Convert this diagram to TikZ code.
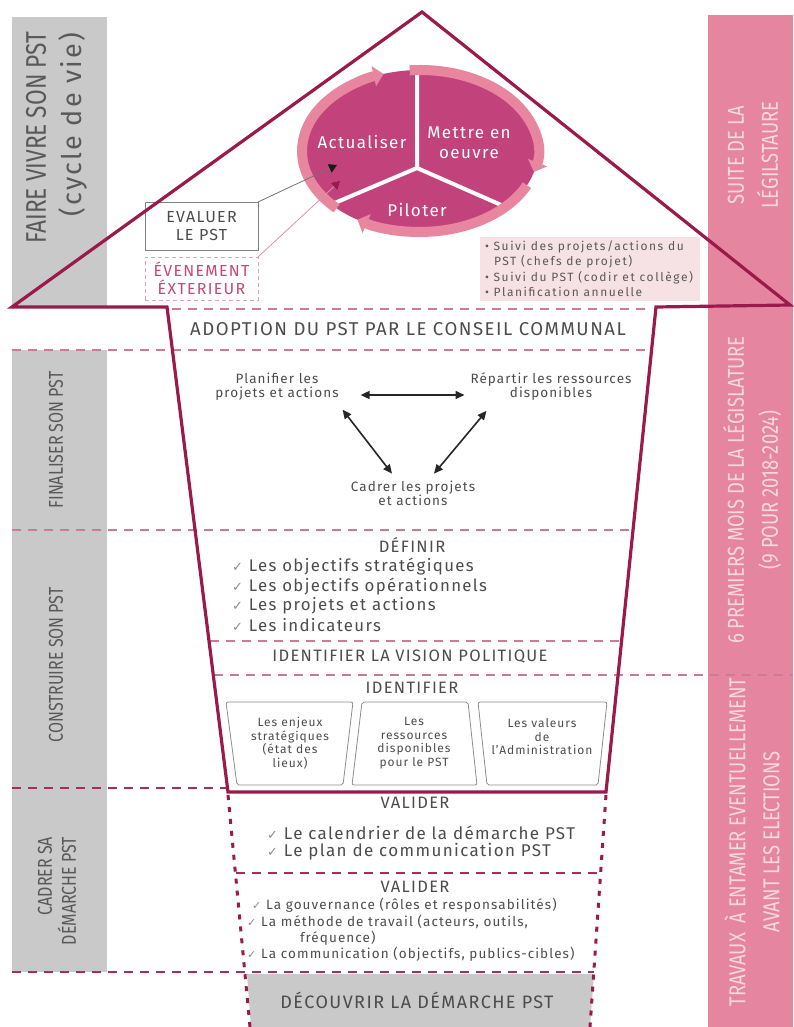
\documentclass[tikz,border=0pt]{standalone}
\usepackage{fontspec}
\setmainfont{Fira Sans}[LetterSpace=8]
\newfontfamily\cond{Fira Sans}[FakeStretch=0.8]
\newfontfamily\symf{DejaVu Sans}
\usetikzlibrary{arrows.meta}
\definecolor{crim}{HTML}{9A1A4C}
\definecolor{dashl}{HTML}{CC7A96}
\definecolor{dashd}{HTML}{A82D5E}
\definecolor{stripc}{HTML}{C9C9C9}
\definecolor{pinkstrip}{HTML}{E6859F}
\definecolor{pinktxt}{HTML}{F9D8E1}
\definecolor{txt}{HTML}{4C4C4C}
\definecolor{striptxt}{HTML}{595959}
\definecolor{ringc}{HTML}{E8869F}
\definecolor{diskc}{HTML}{C2437B}
\definecolor{bulletbg}{HTML}{F6E1E4}
\definecolor{evc}{HTML}{C04A78}
\definecolor{chkc}{HTML}{8C8C8C}
\newcommand{\mychk}{{\symf\color{chkc}\fontsize{13}{13}\selectfont ✓}\hspace{6pt}}
\newcommand{\mychks}{{\symf\color{chkc}\fontsize{11}{11}\selectfont ✓}\hspace{5pt}}
\begin{document}
\begin{tikzpicture}[x=1pt,y=-1pt,
  every node/.style={inner sep=0pt, outer sep=0pt, text=txt},
  sepl/.style={draw=dashl, line width=1.6pt, dash pattern=on 9pt off 7pt},
  sepd/.style={draw=dashd, line width=2pt, dash pattern=on 9pt off 7pt},
  house/.style={draw=crim, line width=3.2pt, line join=miter},
  dotl/.style={draw=crim, line width=3pt, dash pattern=on 5pt off 7pt},
  stxt/.style={rotate=90, font=\cond\fontsize{20}{22}\selectfont, text=striptxt},
  ptxt/.style={rotate=90, font=\cond\fontsize{23}{34}\selectfont, text=pinktxt, align=center},
  dbl/.style={{Triangle[width=8pt,length=9pt]}-{Triangle[width=8pt,length=9pt]}, line width=1.6pt, draw=black!85},
  ringarc/.style={draw=ringc, line width=10pt, -{Triangle[width=20pt,length=10pt]}},
  trap/.style={draw=black!45, line width=0.8pt, rounded corners=2pt},
  hd/.style={font=\fontsize{16.5}{18}\selectfont, text=txt},
  small/.style={font=\fontsize{13.5}{14}\selectfont, align=center, text=txt},
  boxt/.style={font=\fontsize{12}{13.5}\selectfont, align=center, text=txt},
  lst/.style={anchor=west, font=\fontsize{16.8}{20}\selectfont, text=txt},
  lstb/.style={anchor=west, font=\fontsize{17}{20}\selectfont, text=txt},
  lsts/.style={anchor=west, font=\fontsize{13.5}{15}\selectfont, text=txt},
  circlbl/.style={font=\fontsize{17}{20}\selectfont, text=white, align=center}
]
\useasboundingbox (0,0) rectangle (793,1027);

% side strips
\fill[stripc] (12,17) rectangle (107,307);
\fill[stripc] (12,350) rectangle (107,972);
\fill[pinkstrip] (708,15) rectangle (793,1027);

% bullet box background
\fill[bulletbg] (480,237) rectangle (700,301);

% separators
\draw[sepl] (172,309) -- (650,309);
\draw[sepl] (12,350) -- (651,350);
\draw[sepl] (12,530) -- (632,530);
\draw[sepl] (210,641) -- (620,641);
\draw[sepl] (214,675) -- (793,675);
\draw[sepd] (12,788) -- (228,788);
\draw[sepd] (236,873) -- (600,873);

% discover box
\fill[stripc] (247,974) -- (594,974) -- (590,1027) -- (251,1027) -- cycle;
\draw[sepd] (12,972) -- (594,972);

% cycle circle
\fill[diskc] (420,151) ellipse [x radius=118, y radius=81];
\draw[white, line width=4pt] (417,75) -- (417,168) -- (323,208);
\draw[white, line width=4pt] (417,168) -- (508,208);
\draw[ringarc] (526.9,185.2) arc[start angle=25, end angle=122, x radius=118, y radius=81];
\draw[ringarc] (336.6,208.3) arc[start angle=135, end angle=252, x radius=118, y radius=81];
\draw[ringarc] (409.7,70.3) arc[start angle=265, end angle=375, x radius=118, y radius=81];
\node[circlbl] (act) at (362,142) {Actualiser};
\node[circlbl] (mett) at (469,143) {Mettre en\\oeuvre};
\node[circlbl] (pil) at (417,210) {Piloter};

% evaluation boxes
\node[draw=black!50, line width=0.8pt, minimum width=113pt, minimum height=48pt, align=center,
      font=\fontsize{16}{18}\selectfont] (eval) at (201.5,226) {EVALUER\\LE PST};
\node[draw=evc!50, line width=0.9pt, dash pattern=on 4pt off 3pt, minimum width=113pt, minimum height=43pt,
      align=center, text=evc, font=\fontsize{16}{18}\selectfont] (even) at (201.5,278.5) {ÉVENEMENT\\ÉXTERIEUR};
\coordinate (t1) at (337,165);
\coordinate (t2) at (340,181);
\draw[black!55, line width=0.8pt, -{Triangle[width=9pt,length=8pt,color=black!90]}] (eval.north east) -- (t1);
\draw[evc!60, line width=0.8pt, -{Triangle[width=9pt,length=8pt,color=crim]}] (even.north east) -- (t2);

% bullet list
\node[anchor=north west, align=left, font=\fontsize{12}{15}\selectfont\addfontfeatures{LetterSpace=13}, text=black!65] (bul) at (485,241)
  {\textbullet\ Suivi des projets/actions du\\\hspace*{9pt}PST (chefs de projet)\\[1pt]\textbullet\ Suivi du PST (codir et collège)\\\textbullet\ Planification annuelle};

% house outline
\draw[house] (12,307) -- (422,12) -- (790,305) -- (656,307) -- (606,792) -- (228,792) -- (167,307) -- cycle;
\draw[dotl] (228,795) -- (250,1027);
\draw[dotl] (606,795) -- (590,1027);

% strip texts
\node[stxt, anchor=east, font=\cond\fontsize{28.4}{30}\selectfont] (faire) at (36,32) {FAIRE VIVRE SON PST};
\node[stxt, anchor=east, font=\fontsize{27}{30}\selectfont] (cyc) at (73,33) {(cycle de vie)};
\node[stxt] (fin) at (56,440) {FINALISER SON PST};
\node[stxt] (cons) at (56,665) {CONSTRUIRE SON PST};
\node[stxt, anchor=east] (cad1) at (45,837) {CADRER SA};
\node[stxt, anchor=east] (cad2) at (67,837) {DÉMARCHE PST};
\node[ptxt] (suite) at (753,155) {SUITE DE LA\\LÉGILSTAURE};
\node[ptxt] (prem) at (752,490) {6 PREMIERS MOIS DE LA LÉGISLATURE\\(9 POUR 2018-2024)};
\node[ptxt] (trav) at (752,842) {TRAVAUX \ À ENTAMER EVENTUELLEMENT\\AVANT LES ELECTIONS};

% adoption
\node[font=\fontsize{18.6}{20}\selectfont] (adop) at (408,329) {ADOPTION DU PST PAR LE CONSEIL COMMUNAL};

% finaliser triangle
\node[small] (plan) at (277,387) {Planifier les\\projets et actions};
\node[small] (rep) at (551,387) {Répartir les ressources\\disponibles};
\node[small] (cadr) at (413,493) {Cadrer les projets\\et actions};
\draw[dbl] ([shift={(22,8)}]plan.east) -- ([shift={(-6,8)}]rep.west);
\draw[dbl] ([shift={(4,9)}]plan.south east) -- ([shift={(-21,-7)}]cadr.north);
\draw[dbl] ([shift={(16,10)}]rep.south west) -- ([shift={(21,-7)}]cadr.north);

% definir
\node[hd] (def) at (412,545) {DÉFINIR};
\node[lst] (d1) at (232,567) {\mychk Les objectifs stratégiques};
\node[lst] (d2) at (232,587) {\mychk Les objectifs opérationnels};
\node[lst] (d3) at (232,606) {\mychk Les projets et actions};
\node[lst] (d4) at (232,625) {\mychk Les indicateurs};
\node[hd] (vis) at (410,657) {IDENTIFIER LA VISION POLITIQUE};
\node[hd] (ident) at (412,688) {IDENTIFIER};

% identifier boxes
\draw[trap] (226,702) -- (353,702) -- (343,785) -- (237,785) -- cycle;
\draw[trap] (362,702) -- (468,702) -- (477,785) -- (352,785) -- cycle;
\draw[trap] (478,702) -- (607,702) -- (598,785) -- (487,785) -- cycle;
\node[boxt] (b1) at (290,743) {Les enjeux\\stratégiques\\(état des\\lieux)};
\node[boxt] (b2) at (414,743) {Les\\ressources\\disponibles\\pour le PST};
\node[boxt] (b3) at (542,737) {Les valeurs\\de\\l'Administration};

% valider
\node[hd] (val1) at (415,803) {VALIDER};
\node[lstb] (v1) at (267,833) {\mychk Le calendrier de la démarche PST};
\node[lstb] (v2) at (267,852) {\mychk Le plan de communication PST};
\node[hd] (val2) at (415,887) {VALIDER};
\node[lsts] (w1) at (252,905) {\mychks La gouvernance (rôles et responsabilités)};
\node[lsts] (w2) at (247,922) {\mychks La méthode de travail (acteurs, outils,};
\node[lsts] (w3) at (300,938) {fréquence)};
\node[lsts] (w4) at (247,954) {\mychks La communication (objectifs, publics-cibles)};

\node[font=\fontsize{18}{20}\selectfont] (dec) at (417,1000) {DÉCOUVRIR LA DÉMARCHE PST};
\end{tikzpicture}
\end{document}
